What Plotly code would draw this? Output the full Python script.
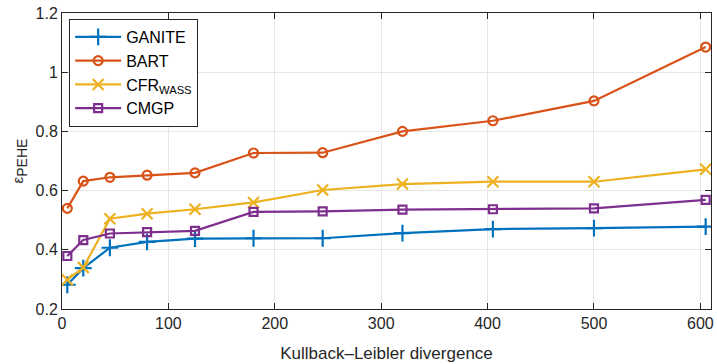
import plotly.graph_objects as go

kl = [5, 20, 45, 80, 125, 180, 245, 320, 405, 500, 605]
ganite = [0.282, 0.338, 0.407, 0.427, 0.438, 0.439, 0.439, 0.456, 0.470, 0.473, 0.478]
bart = [0.540, 0.632, 0.645, 0.652, 0.660, 0.727, 0.728, 0.800, 0.836, 0.903, 1.085]
cfr = [0.299, 0.340, 0.505, 0.522, 0.537, 0.560, 0.602, 0.622, 0.630, 0.630, 0.672]
cmgp = [0.379, 0.433, 0.455, 0.460, 0.464, 0.528, 0.530, 0.536, 0.537, 0.540, 0.569]

series = [
    ("GANITE", ganite, "#0072BD", "cross-thin-open", 12),
    ("BART", bart, "#D95319", "circle-open", 9),
    ("CFR<sub>WASS</sub>", cfr, "#EDB120", "x-thin-open", 11),
    ("CMGP", cmgp, "#7E2F8E", "square-open", 8),
]

fig = go.Figure()
for name, ys, col, sym, sz in series:
    fig.add_trace(go.Scatter(
        x=kl, y=ys, name=name, mode="lines+markers",
        line=dict(color=col, width=2.2),
        marker=dict(symbol=sym, size=sz, color=col, line=dict(color=col, width=2.2)),
    ))

font = "Liberation Sans, Arial, sans-serif"
fig.update_layout(
    width=717, height=364,
    margin=dict(l=62, r=6, t=13, b=55, autoexpand=False),
    plot_bgcolor="white", paper_bgcolor="white",
    font=dict(family=font, size=16, color="#262626"),
    showlegend=True,
    legend=dict(x=0.011, y=0.98, xanchor="left", yanchor="top",
                bordercolor="#262626", borderwidth=1, bgcolor="white",
                font=dict(size=16, color="#000000"), tracegroupgap=0,
                itemwidth=46),
)
fig.update_xaxes(
    range=[0, 610], tickvals=[0, 100, 200, 300, 400, 500, 600],
    automargin=False,
    showgrid=True, gridcolor="#e6e6e6", gridwidth=1,
    showline=True, linecolor="#262626", linewidth=1, mirror="allticks",
    ticks="inside", ticklen=6, tickcolor="#262626",
    zeroline=False,
    title=dict(text="Kullback\u2013Leibler divergence", font=dict(size=17), standoff=15),
)
fig.update_yaxes(
    range=[0.2, 1.2], tickvals=[0.2, 0.4, 0.6, 0.8, 1.0, 1.2],
    ticktext=["0.2", "0.4", "0.6", "0.8", "1", "1.2"],
    automargin=False,
    showgrid=True, gridcolor="#e6e6e6", gridwidth=1,
    showline=True, linecolor="#262626", linewidth=1, mirror="allticks",
    ticks="inside", ticklen=6, tickcolor="#262626",
    zeroline=False,
    title=dict(text="<span style='font-size:15px'>\u03b5</span><sub>PEHE</sub>",
               font=dict(size=20), standoff=6),
)
fig.write_html("out.html", config={"displayModeBar": False},
               post_script="document.body.style.margin='0';")
